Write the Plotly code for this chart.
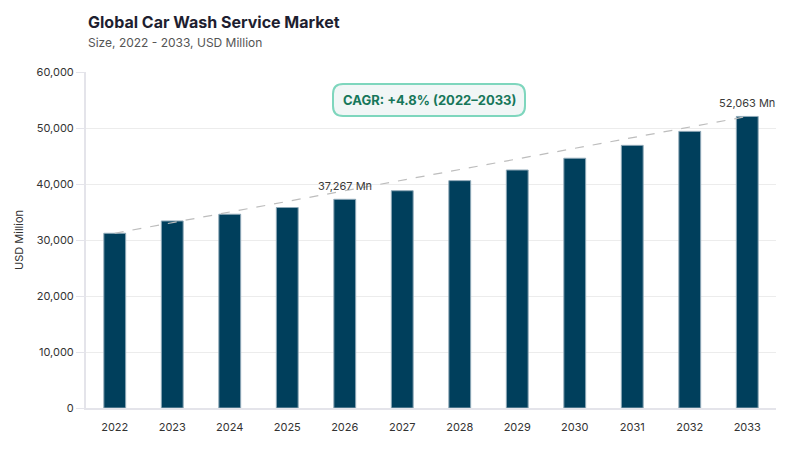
import plotly.graph_objects as go

YEARS = ["2022", "2023", "2024", "2025", "2026", "2027", "2028", "2029", "2030", "2031", "2032", "2033"]
MARKET_SIZE = [31200, 33400, 34600, 35800, 37267, 38800, 40600, 42500, 44600, 46900, 49400, 52063]
Y_TICKS = [0, 10000, 20000, 30000, 40000, 50000, 60000]
LABELLED_YEARS = ["2026", "2033"]
CAGR_TEXT = "CAGR: +4.8% (2022–2033)"

W, H = 800, 450
# the page adds an 8px body margin, so everything is pulled up/left by 8
M_L, M_R, M_T, M_B = 78, 32, 64, 50
PLOT_W = W - M_L - M_R
PLOT_H = H - M_T - M_B

BAR_COLOR = "#003f5c"
FONT = "Inter, Lato, sans-serif"

BOX_CX = (429 - 8 - M_L) / PLOT_W
BOX_CY = (H - M_B - (100 - 8)) / PLOT_H


def rounded_rect(cx, cy, w, h, r):
    # path in paper coords, sizes given in pixels
    sx, sy = 1.0 / PLOT_W, 1.0 / PLOT_H
    x0, x1 = cx - w / 2 * sx, cx + w / 2 * sx
    y0, y1 = cy - h / 2 * sy, cy + h / 2 * sy
    rx, ry = r * sx, r * sy
    return (
        f"M {x0 + rx},{y0} L {x1 - rx},{y0} Q {x1},{y0} {x1},{y0 + ry} "
        f"L {x1},{y1 - ry} Q {x1},{y1} {x1 - rx},{y1} "
        f"L {x0 + rx},{y1} Q {x0},{y1} {x0},{y1 - ry} "
        f"L {x0},{y0 + ry} Q {x0},{y0} {x0 + rx},{y0} Z"
    )


fig = go.Figure()

fig.add_trace(
    go.Bar(
        x=YEARS,
        y=MARKET_SIZE,
        marker=dict(color=BAR_COLOR, line=dict(color="#8fa9b8", width=1)),
        hovertemplate="%{x}: %{y:,} Mn<extra></extra>",
    )
)

# trend line first -> last
fig.add_trace(
    go.Scatter(
        x=[YEARS[0], YEARS[-1]],
        y=[MARKET_SIZE[0], MARKET_SIZE[-1]],
        mode="lines",
        line=dict(color="#bdbdbd", width=1.2, dash="dash"),
        hoverinfo="skip",
    )
)

annotations = []
for yr in LABELLED_YEARS:
    i = YEARS.index(yr)
    annotations.append(
        dict(
            x=i, y=MARKET_SIZE[i], text=f"{MARKET_SIZE[i]:,} Mn", showarrow=False,
            yanchor="bottom", yshift=4,
            font=dict(family=FONT, size=11, color="#3a3a3a"),
        )
    )

annotations += [
    dict(
        xref="paper", yref="paper", x=0, y=1 + 50 / PLOT_H,
        xanchor="left", yanchor="middle", showarrow=False,
        text="<b>Global Car Wash Service Market</b>",
        font=dict(family=FONT, size=16, color="#1e1e30"),
    ),
    dict(
        xref="paper", yref="paper", x=0, y=1 + 30 / PLOT_H,
        xanchor="left", yanchor="middle", showarrow=False,
        text="Size, 2022 - 2033, USD Million",
        font=dict(family=FONT, size=12, color="#555555"),
    ),
    dict(
        xref="paper", yref="paper", x=BOX_CX, y=BOX_CY,
        xanchor="center", yanchor="middle", showarrow=False,
        text=f"<b>{CAGR_TEXT}</b>",
        font=dict(family=FONT, size=13, color="#17775a"),
    ),
]

fig.update_layout(
    width=W,
    height=H,
    margin=dict(l=M_L, r=M_R, t=M_T, b=M_B),
    paper_bgcolor="white",
    plot_bgcolor="white",
    showlegend=False,
    bargap=0.62,
    font=dict(family=FONT, size=11, color="#333333"),
    annotations=annotations,
    shapes=[
        dict(
            type="path", xref="paper", yref="paper",
            path=rounded_rect(BOX_CX, BOX_CY, 192, 32, 10),
            fillcolor="#f1f6f6", line=dict(color="#7ed6bd", width=2),
            layer="above",
        )
    ],
)

fig.update_xaxes(
    type="category", range=[-0.5, len(YEARS) - 0.5], automargin=False,
    showline=True, linecolor="#e4e4ea", linewidth=2,
    showgrid=False, ticks="", ticklabelstandoff=8,
    tickfont=dict(size=11, color="#333333"),
)
fig.update_yaxes(
    range=[0, 60000], tickvals=Y_TICKS, tickformat=",d", automargin=False,
    showline=True, linecolor="#e4e4ea", linewidth=2,
    gridcolor="#ececec", gridwidth=1,
    ticks="outside", ticklen=8, tickcolor="#e4e4ea",
    title=dict(text="USD Million", font=dict(size=11, color="#333333"), standoff=10),
    tickfont=dict(size=11, color="#333333"),
    zeroline=False,
)

fig.write_html("out.html")
